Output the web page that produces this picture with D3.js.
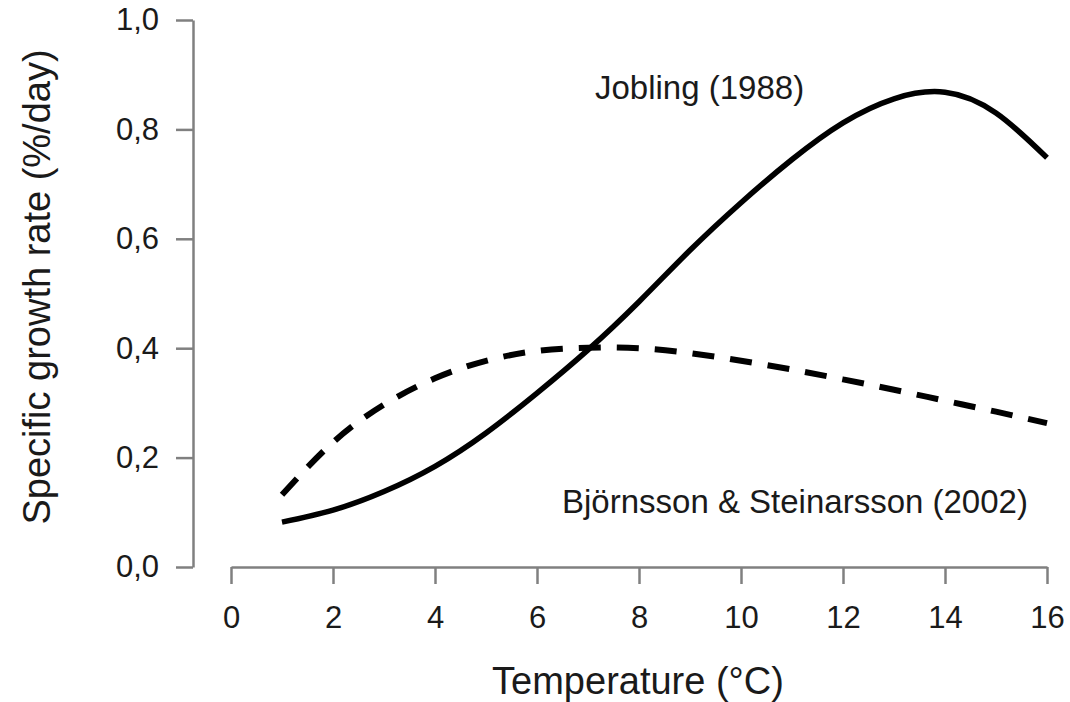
<!DOCTYPE html>
<html>
<head>
<meta charset="utf-8">
<script src="https://cdn.jsdelivr.net/npm/d3@7"></script>
<style>
  body { margin: 0; background: #fff; }
  text { font-family: "Liberation Sans", Arial, sans-serif; fill: #1a1a1a; }
</style>
</head>
<body>
<script>
// Temperature (°C) sampled at whole degrees
const temps = [1, 2, 3, 4, 5, 6, 7, 8, 9, 10, 11, 12, 13, 14, 15, 16];
// Jobling (1988)
const jobling = [0.082, 0.104, 0.138, 0.184, 0.245, 0.318, 0.397, 0.485, 0.579, 0.666, 0.745, 0.812, 0.856, 0.868, 0.830, 0.748];
// Björnsson & Steinarsson (2002)
const bjornsson = [0.132, 0.228, 0.297, 0.345, 0.377, 0.395, 0.401, 0.400, 0.391, 0.377, 0.361, 0.343, 0.324, 0.304, 0.284, 0.263];

const xTicks = [0, 2, 4, 6, 8, 10, 12, 14, 16];
const yTicks = [0, 0.2, 0.4, 0.6, 0.8, 1.0];

const width = 1070, height = 702;
const axisColor = '#808080';

const svg = d3.select('body').append('svg')
    .attr('width', width)
    .attr('height', height);

const x = d3.scaleLinear().domain([0, 16]).range([231, 1047]);
const y = d3.scaleLinear().domain([0, 1]).range([567, 20]);

// comma as decimal separator
const locale = d3.formatLocale({ decimal: ',', thousands: '.', grouping: [3], currency: ['', ''] });
const fmt = locale.format('.1f');

// Y axis
const yAxis = svg.append('g')
    .attr('transform', 'translate(193,0)')
    .call(d3.axisLeft(y).tickValues(yTicks).tickFormat(fmt).tickSize(17).tickSizeOuter(0).tickPadding(17));
yAxis.select('.domain').attr('stroke', axisColor).attr('stroke-width', 2.5);
yAxis.selectAll('.tick line').attr('stroke', axisColor).attr('stroke-width', 2.5);
yAxis.selectAll('.tick text').attr('font-size', 31).attr('fill', '#1a1a1a')
    .attr('font-family', '"Liberation Sans", Arial, sans-serif');

// X axis
const xAxis = svg.append('g')
    .attr('transform', 'translate(0,567)')
    .call(d3.axisBottom(x).tickValues(xTicks).tickFormat(d3.format('d')).tickSize(17).tickSizeOuter(0).tickPadding(22));
xAxis.select('.domain').attr('stroke', axisColor).attr('stroke-width', 2.5);
xAxis.selectAll('.tick line').attr('stroke', axisColor).attr('stroke-width', 2.5);
xAxis.selectAll('.tick text').attr('font-size', 31).attr('fill', '#1a1a1a')
    .attr('font-family', '"Liberation Sans", Arial, sans-serif');

// Curves
const line = d3.line()
    .x(d => x(d[0]))
    .y(d => y(d[1]))
    .curve(d3.curveNatural);

svg.append('path')
    .datum(temps.map((t, i) => [t, jobling[i]]))
    .attr('d', line)
    .attr('fill', 'none')
    .attr('stroke', '#000')
    .attr('stroke-width', 5.5);

svg.append('path')
    .datum(temps.map((t, i) => [t, bjornsson[i]]))
    .attr('d', line)
    .attr('fill', 'none')
    .attr('stroke', '#000')
    .attr('stroke-width', 6)
    .attr('stroke-dasharray', '22,16');

// Annotations
svg.append('text')
    .attr('x', 595).attr('y', 99)
    .attr('font-size', 33)
    .text('Jobling (1988)');

svg.append('text')
    .attr('x', 562).attr('y', 513)
    .attr('font-size', 33)
    .text('Björnsson & Steinarsson (2002)');

// Axis titles
svg.append('text')
    .attr('x', 638).attr('y', 694)
    .attr('text-anchor', 'middle')
    .attr('font-size', 38)
    .text('Temperature (°C)');

svg.append('text')
    .attr('transform', 'translate(50,287) rotate(-90)')
    .attr('text-anchor', 'middle')
    .attr('font-size', 38)
    .text('Specific growth rate (%/day)');
</script>
</body>
</html>
